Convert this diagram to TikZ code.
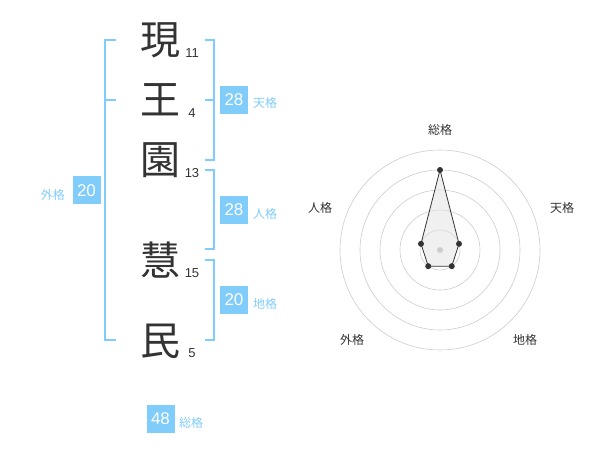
\documentclass[tikz,border=0pt]{standalone}
\usepackage{fontspec}
\setmainfont{Liberation Sans}
\newfontfamily\jp{Noto Sans CJK JP}
\definecolor{kakublue}{RGB}{128,204,250}
\definecolor{inkgray}{RGB}{51,51,51}
\definecolor{ringgray}{RGB}{204,204,204}
\definecolor{fillgray}{RGB}{225,225,225}
\tikzset{
  kanji/.style={text=inkgray, font=\jp\fontsize{40}{44}\selectfont, inner sep=0pt},
  strokes/.style={text=inkgray, font=\fontsize{13}{15}\selectfont, inner sep=0pt},
  kakubox/.style={fill=kakublue, text=white, minimum size=28pt, inner sep=0pt, font=\fontsize{17}{19}\selectfont},
  kakuname/.style={text=kakublue, font=\jp\fontsize{12}{14}\selectfont, inner sep=0pt},
  bracket/.style={draw=kakublue, line width=2pt},
  axisname/.style={text=inkgray, font=\jp\fontsize{12}{14}\selectfont, inner sep=0pt},
}
\begin{document}
\begin{tikzpicture}[x=1pt, y=-1pt]
\useasboundingbox (0,0) rectangle (600,470);

% the name, one character per line
\node at (160,40) [kanji] (c1) {現};
\node at (160,100) [kanji] (c2) {王};
\node at (160,160) [kanji] (c3) {園};
\node at (160,260) [kanji] (c4) {慧};
\node at (160,341) [kanji] (c5) {民};

% stroke counts
\node at (192,53) [strokes] (n1) {11};
\node at (192,113) [strokes] (n2) {4};
\node at (192,173) [strokes] (n3) {13};
\node at (192,273) [strokes] (n4) {15};
\node at (192,353) [strokes] (n5) {5};

% brackets
\coordinate (gaiTop) at (116,40);
\coordinate (gaiTopC) at (105,40);
\coordinate (gaiBot) at (116,340);
\coordinate (gaiBotC) at (105,340);
\coordinate (gaiMid) at (105,100);
\coordinate (gaiMidT) at (116,100);
\draw[bracket] (gaiTop) -- (gaiTopC) -- (gaiBotC) -- (gaiBot);
\draw[bracket] (gaiMid) -- (gaiMidT);

\coordinate (tenTop) at (205,40);
\coordinate (tenTopC) at (214,40);
\coordinate (tenBot) at (205,160);
\coordinate (tenBotC) at (214,160);
\coordinate (tenMid) at (214,100);
\coordinate (tenMidT) at (205,100);
\draw[bracket] (tenTop) -- (tenTopC) -- (tenBotC) -- (tenBot);
\draw[bracket] (tenMid) -- (tenMidT);

\coordinate (jinTop) at (205,170);
\coordinate (jinTopC) at (214,170);
\coordinate (jinBot) at (205,249);
\coordinate (jinBotC) at (214,249);
\draw[bracket] (jinTop) -- (jinTopC) -- (jinBotC) -- (jinBot);

\coordinate (chiTop) at (205,260);
\coordinate (chiTopC) at (214,260);
\coordinate (chiBot) at (205,340);
\coordinate (chiBotC) at (214,340);
\draw[bracket] (chiTop) -- (chiTopC) -- (chiBotC) -- (chiBot);

% scores
\node at (234,100) [kakubox] (ten) {28};
\node at (253,103) [kakuname, anchor=west] (tenL) {天格};
\node at (234,210) [kakubox] (jin) {28};
\node at (253,214) [kakuname, anchor=west] (jinL) {人格};
\node at (234,300) [kakubox] (chi) {20};
\node at (253,304) [kakuname, anchor=west] (chiL) {地格};
\node at (86.5,190.5) [kakubox] (gai) {20};
\node at (65,195) [kakuname, anchor=east] (gaiL) {外格};
\node at (160.5,419) [kakubox] (sou) {48};
\node at (179,423) [kakuname, anchor=west] (souL) {総格};

% radar chart
\begin{scope}[shift={(440,250)}, y=1pt]
\foreach \r in {20,40,...,100}
  \draw[ringgray, line width=0.6pt] (0,0) circle [radius=\r pt];
\coordinate (pSou) at (90:80);
\coordinate (pTen) at (18:20);
\coordinate (pChi) at (-54:20);
\coordinate (pGai) at (-126:20);
\coordinate (pJin) at (162:20);
\draw[draw=inkgray, fill=fillgray, fill opacity=0.5, line width=0.8pt] (pSou) -- (pTen) -- (pChi) -- (pGai) -- (pJin) -- cycle;
\foreach \p in {pSou,pTen,pChi,pGai,pJin}
  \fill[inkgray] (\p) circle [radius=3pt];
\fill[ringgray] (0,0) circle [radius=3pt];
\node at (0,120) [axisname] (aSou) {総格};
\node at (122,42) [axisname] (aTen) {天格};
\node at (85,-90) [axisname] (aChi) {地格};
\node at (-88,-90) [axisname] (aGai) {外格};
\node at (-120,42) [axisname] (aJin) {人格};
\end{scope}

\end{tikzpicture}
\end{document}
